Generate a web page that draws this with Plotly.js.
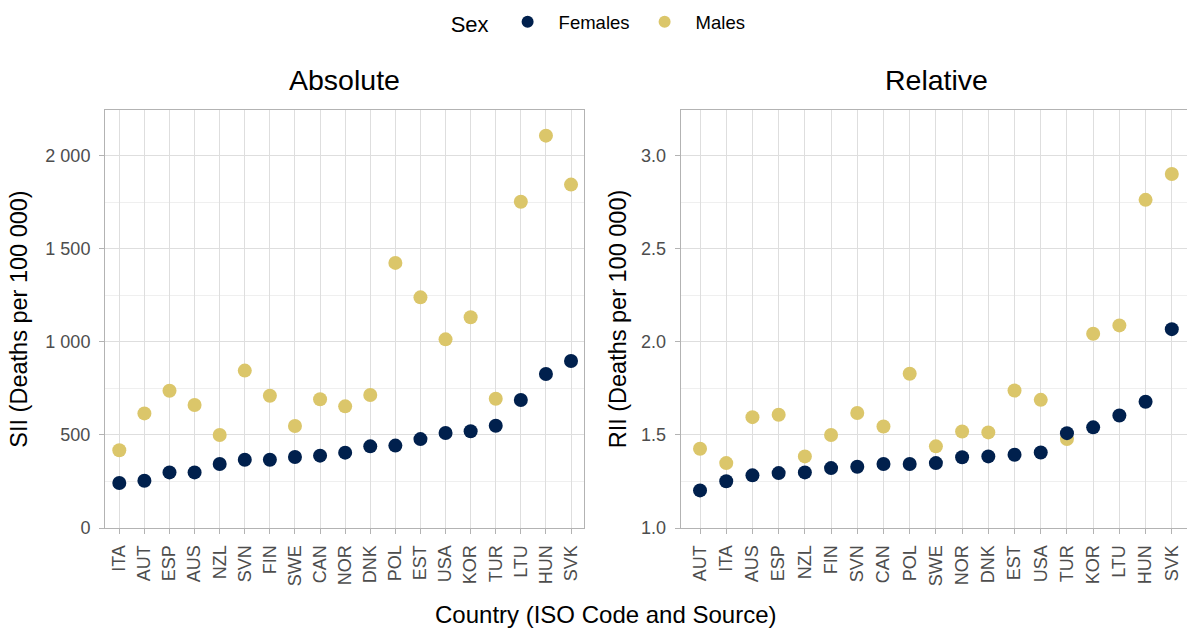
<!DOCTYPE html>
<html>
<head>
<meta charset="utf-8">
<script src="https://cdn.plot.ly/plotly-3.0.1.min.js"></script>
<style>html,body{margin:0;padding:0;background:#fff;}#chart{width:1187px;height:628px;}</style>
</head>
<body>
<div id="chart"></div>
<script>
// Absolute panel (SII)
const countriesAbs = ['ITA','AUT','ESP','AUS','NZL','SVN','FIN','SWE','CAN','NOR','DNK','POL','EST','USA','KOR','TUR','LTU','HUN','SVK'];
const siiFemales = [242,254,299,299,344,367,367,382,389,405,439,443,478,511,520,550,688,828,898];
const siiMales   = [418,616,738,661,500,846,711,548,692,654,715,1425,1240,1014,1133,695,1754,2109,1846];
// Relative panel (RII)
const countriesRel = ['AUT','ITA','AUS','ESP','NZL','FIN','SVN','CAN','POL','SWE','NOR','DNK','EST','USA','TUR','KOR','LTU','HUN','SVK'];
const riiFemales = [1.202,1.251,1.283,1.295,1.299,1.322,1.329,1.344,1.344,1.349,1.380,1.385,1.394,1.406,1.510,1.541,1.605,1.679,2.069];
const riiMales   = [1.426,1.349,1.596,1.609,1.385,1.500,1.618,1.546,1.829,1.439,1.519,1.514,1.739,1.689,1.478,2.044,2.089,2.764,2.903];
// Tick labels
const siiTickVals = [0,500,1000,1500,2000];
const siiTickText = ['0','500','1 000','1 500','2 000'];
const riiTickVals = [1.0,1.5,2.0,2.5,3.0];
const riiTickText = ['1.0','1.5','2.0','2.5','3.0'];

const colF = '#00204D';
const colM = '#DBC66A';
const font = 'Liberation Sans, Arial, sans-serif';
const mk = (c) => ({color: c, size: 14});

const traces = [
  {x: countriesAbs, y: siiMales, type: 'scatter', mode: 'markers', name: 'Males', legendgroup: 'M', legendrank: 2, marker: mk(colM), xaxis: 'x', yaxis: 'y'},
  {x: countriesAbs, y: siiFemales, type: 'scatter', mode: 'markers', name: 'Females', legendgroup: 'F', legendrank: 1, marker: mk(colF), xaxis: 'x', yaxis: 'y'},
  {x: countriesRel, y: riiMales, type: 'scatter', mode: 'markers', name: 'Males', legendgroup: 'M', showlegend: false, marker: mk(colM), xaxis: 'x2', yaxis: 'y2'},
  {x: countriesRel, y: riiFemales, type: 'scatter', mode: 'markers', name: 'Females', legendgroup: 'F', showlegend: false, marker: mk(colF), xaxis: 'x2', yaxis: 'y2'}
];

const frame = '#B3B3B3';
const grid = '#DEDEDE';
const minorGrid = '#EFEFEF';
const tickFont = {family: font, size: 18, color: '#4D4D4D'};

const xCommon = {
  type: 'category', showgrid: true, gridcolor: grid, gridwidth: 1,
  showline: true, linecolor: frame, linewidth: 1, mirror: true,
  ticks: 'outside', ticklen: 5, tickcolor: frame, tickwidth: 1,
  tickangle: -90, tickfont: tickFont, zeroline: false, automargin: false, fixedrange: true,
  ticklabelstandoff: 4
};

const layout = {
  width: 1187, height: 628,
  margin: {l: 105, r: 0, t: 110, b: 100},
  paper_bgcolor: '#fff', plot_bgcolor: '#fff',
  font: {family: font, color: '#000'},
  showlegend: true,
  legend: {
    orientation: 'h', xref: 'container', yref: 'container', x: 0.378, y: 0.995,
    xanchor: 'left', yanchor: 'top',
    title: {text: 'Sex', font: {family: font, size: 22, color: '#000'}},
    font: {family: font, size: 18.5, color: '#000'},
    itemsizing: 'constant', itemwidth: 52,
    entrywidth: 70, entrywidthmode: 'pixels'
  },
  xaxis: Object.assign({}, xCommon, {domain: [0, 0.443], range: [-0.57, 18.53], anchor: 'y'}),
  xaxis2: Object.assign({}, xCommon, {domain: [0.532, 1], range: [-0.74, 18.58], anchor: 'y2'}),
  yaxis: {
    domain: [0, 1], range: [0, 2247], anchor: 'x',
    tickvals: siiTickVals, ticktext: siiTickText, tickfont: tickFont,
    showgrid: true, gridcolor: grid, gridwidth: 1,
    minor: {tickvals: [250,750,1250,1750], showgrid: true, gridcolor: minorGrid, gridwidth: 1, ticks: ''},
    showline: true, linecolor: frame, linewidth: 1, mirror: true,
    ticks: 'outside', ticklen: 5, tickcolor: frame, zeroline: false, automargin: false,
    ticklabelstandoff: 5,
    title: {text: 'SII (Deaths per 100 000)', font: {family: font, size: 23.5, color: '#000'}, standoff: 11}
  },
  yaxis2: {
    domain: [0, 1], range: [1, 3.247], anchor: 'x2',
    tickvals: riiTickVals, ticktext: riiTickText, tickfont: tickFont,
    showgrid: true, gridcolor: grid, gridwidth: 1,
    minor: {tickvals: [1.25,1.75,2.25,2.75], showgrid: true, gridcolor: minorGrid, gridwidth: 1, ticks: ''},
    showline: true, linecolor: frame, linewidth: 1, mirror: false,
    ticks: 'outside', ticklen: 5, tickcolor: frame, zeroline: false, automargin: false,
    ticklabelstandoff: 5,
    title: {text: 'RII (Deaths per 100 000)', font: {family: font, size: 23.5, color: '#000'}, standoff: 7}
  },
  annotations: [
    {text: 'Absolute', xref: 'x domain', yref: 'y domain', x: 0.5, y: 1.0717, xanchor: 'center', yanchor: 'middle', showarrow: false, font: {family: font, size: 28.5, color: '#000'}},
    {text: 'Relative', xref: 'x2 domain', yref: 'y2 domain', x: 0.505, y: 1.0717, xanchor: 'center', yanchor: 'middle', showarrow: false, font: {family: font, size: 28.5, color: '#000'}},
    {text: 'Country (ISO Code and Source)', xref: 'paper', yref: 'paper', x: 0.463, y: -0.208, xanchor: 'center', yanchor: 'middle', showarrow: false, font: {family: font, size: 24, color: '#000'}}
  ]
};

Plotly.newPlot('chart', traces, layout, {displayModeBar: false, staticPlot: true});
</script>
</body>
</html>
